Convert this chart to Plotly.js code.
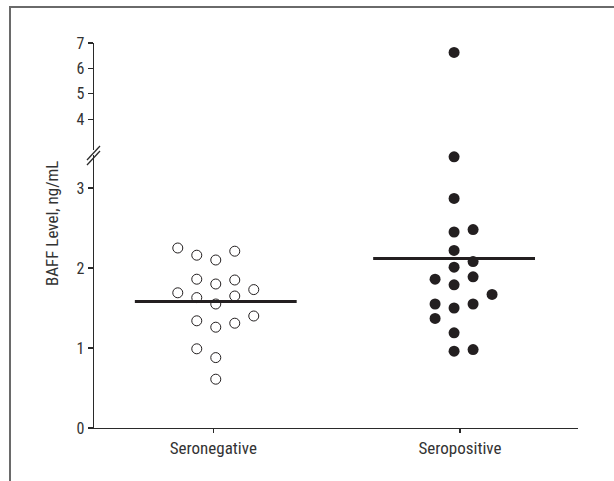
<!DOCTYPE html>
<html>
<head>
<meta charset="utf-8">
<script src="https://cdn.plot.ly/plotly-3.0.1.min.js"></script>
<style>
  html, body { margin: 0; padding: 0; background: #fff; }
  #frame { position: absolute; left: 9px; top: 6px; width: 610px; height: 480px;
           border-left: 2px solid #6a6a6a; border-top: 2px solid #6a6a6a; }
  #chart { position: absolute; left: 0; top: 0; width: 614px; height: 481px; }
</style>
</head>
<body>
<div id="frame"></div>
<div id="chart"></div>
<script>
// ---- data ----
var categories = ["Seronegative", "Seropositive"];
var seronegativeValues = [2.25, 2.16, 2.10, 2.21, 1.86, 1.80, 1.85, 1.73, 1.69, 1.63,
                          1.55, 1.65, 1.40, 1.34, 1.26, 1.31, 0.99, 0.88, 0.61];
var seronegativeColumns = [-2, -1, 0, 1, -1, 0, 1, 2, -2, -1, 0, 1, 2, -1, 0, 1, -1, 0, 0];
var seropositiveValues = [6.63, 3.39, 2.87, 2.45, 2.48, 2.22, 2.08, 2.01, 1.86, 1.79,
                          1.89, 1.67, 1.55, 1.50, 1.55, 1.37, 1.19, 0.96, 0.98];
var seropositiveColumns = [0, 0, 0, 0, 1, 0, 1, 0, -1, 0, 1, 2, -1, 0, 1, -1, 0, 0, 1];
var meanValues = [1.58, 2.12];
var lowerTicks = [0, 1, 2, 3];
var upperTicks = [4, 5, 6, 7];
var breakValue = 3.5;

// ---- presentation ----
var colSpacing = 0.077;
var groupShift = [0.01, -0.024];
var meanHalfWidth = 0.328;
var FONT = "'Liberation Sans Narrow', 'Arial Narrow', 'Roboto Condensed', 'Liberation Sans', sans-serif";
var INK = "#231f20";
var TXT = "#333333";

function pts(groupIdx, vals, cols, upper) {
  var xs = [], ys = [];
  for (var i = 0; i < vals.length; i++) {
    var isUpper = vals[i] > breakValue;
    if (isUpper === upper) {
      xs.push(groupIdx + groupShift[groupIdx] + cols[i] * colSpacing);
      ys.push(vals[i]);
    }
  }
  return {x: xs, y: ys};
}

var traces = [];
[[0, seronegativeValues, seronegativeColumns], [1, seropositiveValues, seropositiveColumns]].forEach(function (g) {
  var open = g[0] === 0;
  [false, true].forEach(function (upper) {
    var p = pts(g[0], g[1], g[2], upper);
    if (!p.x.length) return;
    traces.push({
      type: "scatter", mode: "markers", x: p.x, y: p.y,
      xaxis: "x", yaxis: upper ? "y2" : "y", cliponaxis: false, hoverinfo: "skip",
      marker: open ? {size: 10, color: "#ffffff", line: {color: INK, width: 1}}
                   : {size: 11, color: INK, line: {color: INK, width: 0}}
    });
  });
});
meanValues.forEach(function (m, i) {
  var c = i + groupShift[i];
  traces.push({
    type: "scatter", mode: "lines", x: [c - meanHalfWidth, c + meanHalfWidth], y: [m, m],
    xaxis: "x", yaxis: "y", line: {color: INK, width: 3}, hoverinfo: "skip"
  });
});

// plot area pixels: x 94..578, y 43..428
var L = 94, R = 578, T = 43, B = 428;
function px(x) { return (x - L) / (R - L); }
function py(y) { return (B - y) / (B - T); }
var lowerTopPx = 155, upperBotPx = 150;

var axisCommon = {
  showline: true, linecolor: "#2a2a2a", linewidth: 1.3, ticks: "outside", ticklen: 5,
  tickwidth: 1.3, tickcolor: "#2a2a2a", showgrid: false, zeroline: false,
  tickfont: {family: FONT, size: 16, color: TXT}, fixedrange: true
};

var layout = {
  width: 614, height: 481,
  margin: {l: L, r: 614 - R, t: T, b: 481 - B, pad: 0},
  paper_bgcolor: "rgba(0,0,0,0)", plot_bgcolor: "rgba(0,0,0,0)",
  showlegend: false,
  xaxis: Object.assign({}, axisCommon, {
    range: [-(213.3 - L) / 246.7, (R - 213.3) / 246.7],
    tickvals: [0, 1], ticktext: categories, ticklen: 4, anchor: "y",
    tickfont: {family: FONT, size: 17, color: TXT}
  }),
  yaxis: Object.assign({}, axisCommon, {
    domain: [0, py(lowerTopPx)], range: [0, (B - lowerTopPx) / 80],
    tickvals: lowerTicks, anchor: "x"
  }),
  yaxis2: Object.assign({}, axisCommon, {
    domain: [py(upperBotPx), 1], range: [7 - (upperBotPx - T) / 25.4, 7],
    tickvals: upperTicks, anchor: "x"
  }),
  annotations: [{
    text: "BAFF Level, ng/mL", textangle: -90, xref: "paper", yref: "paper",
    x: px(51.5), y: py(223.5), xanchor: "center", yanchor: "middle", showarrow: false,
    font: {family: FONT, size: 17, color: TXT}
  }],
  shapes: [
    {type: "line", xref: "paper", yref: "paper", x0: px(87), y0: py(160), x1: px(100), y1: py(146),
     line: {color: "#2a2a2a", width: 1.3}},
    {type: "line", xref: "paper", yref: "paper", x0: px(87), y0: py(165), x1: px(100), y1: py(151),
     line: {color: "#2a2a2a", width: 1.3}}
  ]
};

Plotly.newPlot("chart", traces, layout, {displayModeBar: false, staticPlot: true});
</script>
</body>
</html>
